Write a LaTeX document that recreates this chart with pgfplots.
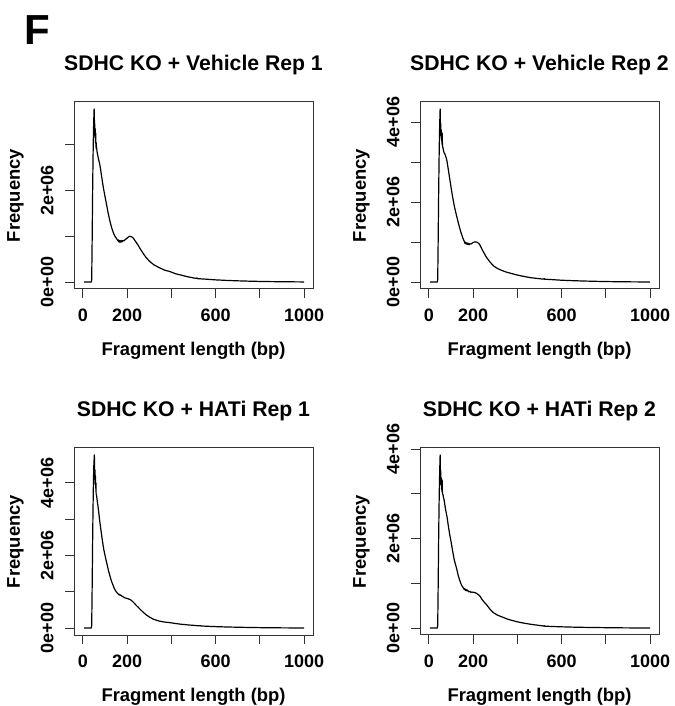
\documentclass[border=0pt]{standalone}
\usepackage{fontspec}
\setmainfont{Liberation Sans}
\usepackage{pgfplots}
\pgfplotsset{compat=1.18}

\pgfplotsset{
  rplot/.style={
    scale only axis, width=239pt, height=187pt, anchor=south west,
    xmin=-40, xmax=1040,
    axis line style={line width=1pt, black!80},
    every tick/.style={line width=1pt, black!80},
    tick align=outside, major tick length=9pt, tick pos=left,
    xtick={0,200,400,600,800,1000}, xticklabels={0,200,,600,,1000},
    ytick={0,1,2,3,4},
    ticklabel style={font=\fontsize{18}{18}\selectfont\bfseries},
    xticklabel style={anchor=base}, xticklabel shift=23.7pt,
    yticklabel style={rotate=90, anchor=base}, yticklabel shift=11.7pt,
    label style={font=\fontsize{18.4}{18.4}\selectfont\bfseries},
    xlabel={Fragment length (bp)}, ylabel={Frequency},
    xlabel style={at={(axis description cs:0.5,-0.353)}, anchor=base},
    ylabel style={at={(axis description cs:-0.226,0.5)}, anchor=base, rotate=0},
    title style={at={(axis description cs:0.5,1.137)}, anchor=base,
      font=\fontsize{21.2}{21.2}\selectfont\bfseries},
    cycle list={{black, mark=none}},
    every axis plot/.append style={line width=1.2pt, line join=round},
  }
}

\begin{document}
\begin{tikzpicture}
\useasboundingbox (0pt,0pt) rectangle (674pt,706pt);
\node[anchor=base west, inner sep=0pt, font=\fontsize{42}{42}\selectfont\bfseries] at (24pt,661pt) {F};

% SDHC KO + Vehicle Rep 1
\begin{axis}[rplot, at={(74pt,417pt)}, ymin=-0.1512, ymax=3.9312,
  yticklabels={0e+00,,2e+06,}, title={SDHC KO + Vehicle Rep 1}]
\addplot coordinates {
(5,0) (38,0) (40,0.05) (42,0.9) (44,1.9) (46,2.7) (48,3.3) (50,3.65) (51,3.78)
(52,3.6) (53,3.3) (54,3.45) (55,3.15) (56,3.35) (57,3.05) (58,3.25) (59,2.95)
(60,3.05) (61,2.9) (62,2.95) (64,2.85) (66,2.8) (68,2.75) (70,2.7) (72,2.66)
(76,2.58) (80,2.47) (85,2.3) (90,2.14) (95,2.0) (100,1.87) (106,1.72) (110,1.62)
(115,1.49) (121,1.36) (125,1.28) (130,1.19) (136,1.1) (140,1.05) (145,1.0)
(151,0.96) (155,0.93) (158,0.9) (160,0.92) (162,0.88) (165,0.91) (167,0.87)
(170,0.9) (172,0.87) (175,0.91) (178,0.88) (181,0.91) (185,0.9) (190,0.92)
(195,0.94) (200,0.96) (205,0.98) (211,1.0) (216,0.995) (221,0.985) (227,0.965)
(235,0.91) (242,0.86) (249,0.81) (260,0.72) (272,0.63) (285,0.54) (302,0.45)
(320,0.38) (347,0.31) (370,0.26) (393,0.23) (420,0.18) (438,0.16) (470,0.12)
(500,0.09) (514,0.08) (516,0.09) (518,0.075) (550,0.065) (600,0.048) (650,0.036)
(700,0.027) (750,0.02) (800,0.014) (850,0.01) (900,0.007) (950,0.005) (1000,0.003)
};
\end{axis}

% SDHC KO + Vehicle Rep 2
\begin{axis}[rplot, at={(420pt,417pt)}, ymin=-0.1732, ymax=4.5032,
  yticklabels={0e+00,,2e+06,,4e+06}, title={SDHC KO + Vehicle Rep 2}]
\addplot coordinates {
(5,0) (38,0) (40,0.06) (42,1.0) (44,2.1) (46,3.0) (48,3.7) (50,4.15) (51,4.33)
(52,4.05) (53,3.75) (54,3.95) (55,3.65) (56,3.8) (57,3.55) (58,3.7) (59,3.45)
(60,3.73) (61,3.5) (62,3.4) (64,3.35) (66,3.3) (68,3.25) (70,3.22) (73,3.2)
(76,3.14) (79,3.1) (82,3.02) (86,2.88) (90,2.74) (95,2.56) (100,2.38) (104,2.24)
(110,2.05) (115,1.9) (120,1.78) (127,1.62) (133,1.48) (140,1.34) (145,1.24)
(150,1.16) (155,1.08) (160,1.02) (163,0.97) (166,1.0) (169,0.95) (172,0.98)
(175,0.94) (178,0.97) (181,0.93) (185,0.96) (190,0.95) (195,0.97) (200,0.99)
(205,1.0) (210,1.005) (215,1.0) (220,0.99) (228,0.95) (235,0.88) (242,0.8)
(248,0.74) (260,0.62) (275,0.51) (293,0.4) (310,0.34) (330,0.29) (350,0.25)
(369,0.22) (400,0.175) (430,0.14) (460,0.11) (490,0.09) (510,0.078) (519,0.075)
(521,0.085) (523,0.072) (560,0.06) (600,0.046) (650,0.035) (700,0.026) (750,0.019)
(800,0.013) (850,0.009) (900,0.006) (950,0.004) (1000,0.003)
};
\end{axis}

% SDHC KO + HATi Rep 1
\begin{axis}[rplot, at={(74pt,71pt)}, ymin=-0.1908, ymax=4.9608,
  yticklabels={0e+00,,2e+06,,4e+06}, title={SDHC KO + HATi Rep 1}]
\addplot coordinates {
(5,0) (38,0) (40,0.07) (42,1.1) (44,2.3) (46,3.3) (48,4.1) (50,4.55) (52,4.77)
(53,4.5) (54,4.1) (55,4.35) (56,3.95) (57,4.2) (58,3.85) (59,4.0) (60,3.7)
(62,3.65) (64,3.55) (66,3.45) (68,3.38) (70,3.28) (72,3.18) (76,2.96) (80,2.78)
(85,2.55) (91,2.3) (95,2.15) (100,2.01) (106,1.84) (110,1.74) (115,1.6) (121,1.47)
(125,1.38) (130,1.28) (136,1.19) (140,1.12) (145,1.06) (151,1.0) (155,0.97)
(160,0.94) (163,0.915) (166,0.93) (169,0.9) (172,0.91) (176,0.88) (180,0.87)
(185,0.85) (190,0.83) (195,0.825) (200,0.815) (205,0.805) (212,0.79) (220,0.76)
(227,0.72) (235,0.67) (242,0.62) (249,0.58) (260,0.51) (272,0.44) (285,0.37)
(302,0.3) (320,0.24) (347,0.19) (370,0.165) (393,0.15) (420,0.125) (438,0.11)
(470,0.09) (500,0.075) (529,0.06) (531,0.068) (533,0.058) (560,0.05) (600,0.04)
(650,0.03) (700,0.023) (750,0.017) (800,0.012) (850,0.008) (900,0.006) (950,0.004)
(1000,0.003)
};
\end{axis}

% SDHC KO + HATi Rep 2
\begin{axis}[rplot, at={(420pt,71pt)}, ymin=-0.1548, ymax=4.0248,
  yticklabels={0e+00,,2e+06,,4e+06}, title={SDHC KO + HATi Rep 2}]
\addplot coordinates {
(5,0) (38,0) (40,0.05) (42,0.9) (44,1.9) (46,2.7) (48,3.3) (50,3.7) (51,3.87)
(52,3.6) (53,3.3) (54,3.5) (55,3.2) (56,3.35) (57,3.1) (58,3.25) (59,3.05)
(60,3.31) (61,3.05) (62,3.0) (64,2.98) (66,2.92) (69,2.86) (72,2.76) (76,2.64)
(82,2.49) (86,2.35) (90,2.22) (95,2.07) (100,1.94) (104,1.82) (110,1.65)
(115,1.52) (120,1.43) (127,1.3) (133,1.17) (140,1.06) (145,0.99) (150,0.94)
(157,0.89) (160,0.86) (163,0.88) (166,0.84) (169,0.86) (172,0.83) (175,0.85)
(180,0.81) (185,0.82) (190,0.8) (195,0.805) (200,0.8) (205,0.795) (210,0.79)
(217,0.77) (225,0.74) (233,0.7) (240,0.64) (250,0.58) (263,0.51) (278,0.41)
(293,0.34) (310,0.29) (330,0.25) (350,0.21) (369,0.18) (400,0.14) (430,0.11)
(460,0.085) (490,0.065) (510,0.052) (519,0.045) (521,0.055) (523,0.043)
(560,0.035) (600,0.028) (650,0.021) (700,0.016) (750,0.012) (800,0.009)
(850,0.006) (900,0.004) (950,0.003) (1000,0.002)
};
\end{axis}
\end{tikzpicture}
\end{document}
